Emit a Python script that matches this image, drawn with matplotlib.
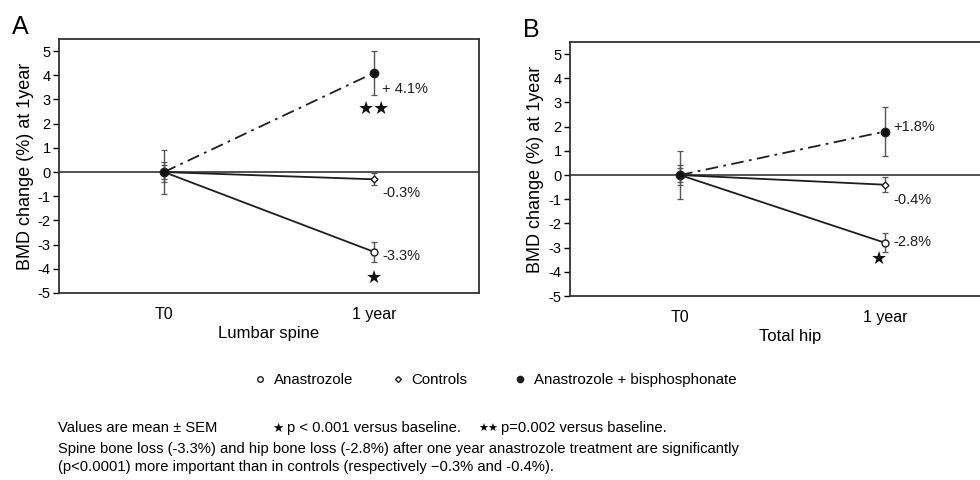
import numpy as np
import matplotlib
matplotlib.use("Agg")
import matplotlib.pyplot as plt
from matplotlib.lines import Line2D

plt.rcParams["font.family"] = ["Liberation Sans", "DejaVu Sans"]
plt.rcParams["axes.unicode_minus"] = False

timepoints = ["T0", "1 year"]
groups = ["Anastrozole", "Controls", "Anastrozole + bisphosphonate"]

# lumbar spine, mean BMD change (%) and SEM
spine_mean = {"Anastrozole": [0, -3.3], "Controls": [0, -0.3],
              "Anastrozole + bisphosphonate": [0, 4.1]}
spine_sem = {"Anastrozole": [0.4, 0.4], "Controls": [0.3, 0.25],
             "Anastrozole + bisphosphonate": [0.9, 0.9]}
spine_labels = ["-3.3%", "-0.3%", "+ 4.1%"]
spine_label_y = [-3.45, -0.85, 3.45]
spine_stars = ["★", "★★"]
spine_star_y = [-4.4, 2.6]

# total hip
hip_mean = {"Anastrozole": [0, -2.8], "Controls": [0, -0.4],
            "Anastrozole + bisphosphonate": [0, 1.8]}
hip_sem = {"Anastrozole": [0.4, 0.4], "Controls": [0.3, 0.3],
           "Anastrozole + bisphosphonate": [1.0, 1.0]}
hip_labels = ["-2.8%", "-0.4%", "+1.8%"]
hip_label_y = [-2.75, -1.05, 2.0]
hip_stars = ["★"]
hip_star_y = [-3.5]

yticks = np.arange(-5, 6, 1)

styles = {
    "Anastrozole": dict(marker="o", ms=5, mfc="white", ls="-", zorder=4),
    "Controls": dict(marker="D", ms=3.5, mfc="white", ls="-", zorder=3),
    "Anastrozole + bisphosphonate": dict(marker="o", ms=6, mfc="#111111",
                                         ls=(0, (7, 3, 1.5, 3)), zorder=5),
}
ink = "#1e1e1e"

fig = plt.figure(figsize=(9.8, 4.8), dpi=100)
W, H = 980, 480


def panel(rect, letter, xlab, means, sems, labels, label_y, stars, star_y,
          xlim, label_dx, star_dx):
    l, t, w, h = rect
    ax = fig.add_axes([l / W, 1 - (t + h) / H, w / W, h / H])
    x = np.arange(len(timepoints))
    for g in groups:
        st = styles[g]
        ax.errorbar(x, means[g], yerr=sems[g], fmt="none", ecolor="#555555",
                    elinewidth=1.0, capsize=2.5, capthick=0.9,
                    zorder=st["zorder"] - 1)
        ax.plot(x, means[g], color=ink, lw=1.3, ls=st["ls"],
                marker=st["marker"], ms=st["ms"], mfc=st["mfc"],
                mec=ink, mew=1.0, zorder=st["zorder"])
    for txt, yv in zip(labels, label_y):
        ax.text(1 + label_dx, yv, txt, fontsize=10.5, color=ink,
                ha="left", va="center")
    for s, yv in zip(stars, star_y):
        ax.text(1 + star_dx, yv, s, fontsize=13, color="#111111",
                ha="center", va="center")
    ax.axhline(0, color="#333333", lw=1.2, zorder=1)
    ax.set_xlim(*xlim)
    ax.set_ylim(-5, 5.5)
    ax.set_yticks(yticks)
    ax.set_yticklabels([str(v) for v in yticks], fontsize=10.5)
    ax.set_xticks(x)
    ax.set_xticklabels(timepoints, fontsize=11.5)
    ax.tick_params(axis="x", length=0, pad=10)
    ax.tick_params(axis="y", direction="out", length=4, width=1, pad=2)
    ax.set_xlabel(xlab, fontsize=12, labelpad=3)
    ax.set_ylabel("BMD change (%) at 1year", fontsize=13, labelpad=3)
    for sp in ax.spines.values():
        sp.set_linewidth(1.3)
        sp.set_color("#333333")
    fig.text((l - 47) / W, 1 - (t - 12) / H, letter, fontsize=18,
             ha="left", va="center")
    return ax


panel((59, 39, 420, 254), "A", "Lumbar spine", spine_mean, spine_sem,
      spine_labels, spine_label_y, spine_stars, spine_star_y,
      (-0.5, 1.5), 0.04, 0.0)
panel((570, 42, 440, 254), "B", "Total hip", hip_mean, hip_sem,
      hip_labels, hip_label_y, hip_stars, hip_star_y,
      (-0.537, 1.61), 0.04, -0.03)

# legend entries placed one by one (uneven gaps between them)
handles = [
    Line2D([], [], ls="none", marker="o", ms=4, mfc="white", mec=ink, mew=1),
    Line2D([], [], ls="none", marker="D", ms=3, mfc="white", mec=ink, mew=1),
    Line2D([], [], ls="none", marker="o", ms=4.5, mfc=ink, mec=ink),
]
legend_x = [254, 392, 514]
for hnd, name, lx in zip(handles, groups, legend_x):
    fig.legend([hnd], [name], loc="center left",
               bbox_to_anchor=(lx / W, 1 - 380 / H), frameon=False,
               fontsize=10.8, handlelength=0.8, handletextpad=0.5,
               borderpad=0, borderaxespad=0)

foot = 10.6
fig.text(58 / W, 1 - 428 / H, "Values are mean ± SEM", fontsize=foot,
         va="center")
fig.text(272 / W, 1 - 429 / H, "★", fontsize=9, va="center")
fig.text(287 / W, 1 - 428 / H, "p < 0.001 versus baseline.", fontsize=foot,
         va="center")
fig.text(478 / W, 1 - 429 / H, "★★", fontsize=8, va="center")
fig.text(501 / W, 1 - 428 / H, "p=0.002 versus baseline.", fontsize=foot,
         va="center")
fig.text(58 / W, 1 - 449 / H,
         "Spine bone loss (-3.3%) and hip bone loss (-2.8%) after one year "
         "anastrozole treatment are significantly", fontsize=foot, va="center")
fig.text(58 / W, 1 - 467 / H,
         "(p<0.0001) more important than in controls (respectively \u22120.3% "
         "and -0.4%).", fontsize=foot, va="center")

fig.savefig("out.png", dpi=100)
